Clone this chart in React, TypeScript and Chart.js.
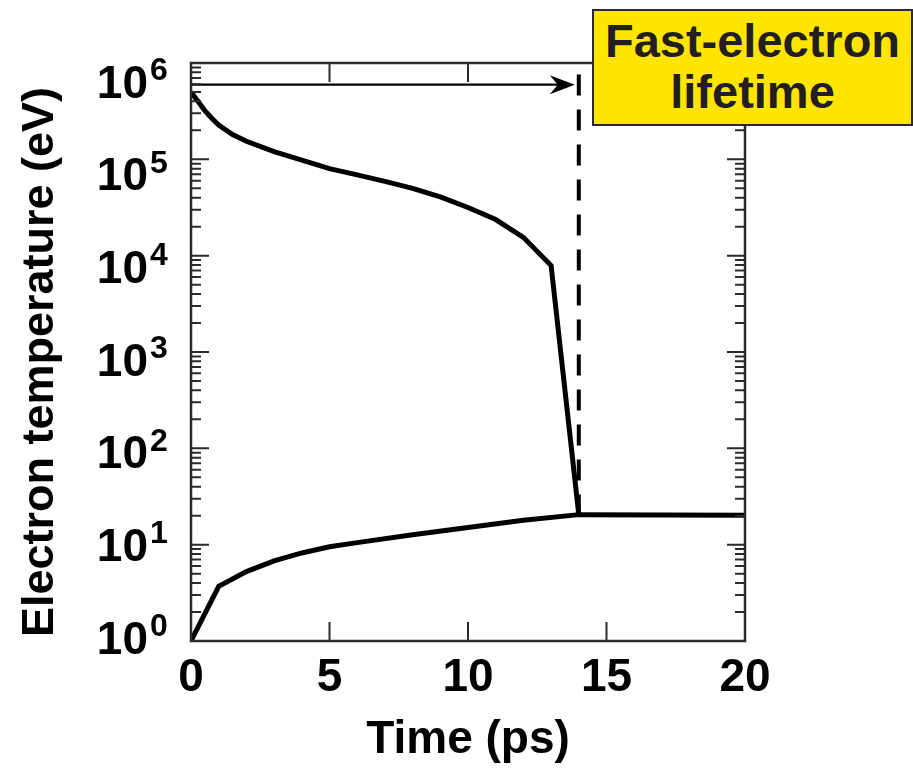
import React, { useEffect, useRef } from 'react';
import { Chart, registerables } from 'chart.js';

Chart.register(...registerables);

// Hot (fast) electron temperature, eV
const timeHot = [0, 0.25, 0.5, 0.75, 1, 1.5, 2, 3, 4, 5, 6, 7, 8, 9, 10, 11, 12, 13, 14];
const tempHot = [5.0e5, 4.0e5, 3.2e5, 2.67e5, 2.27e5, 1.81e5, 1.54e5, 1.2e5, 9.8e4, 8.0e4, 6.9e4, 5.9e4, 5.0e4, 4.07e4, 3.16e4, 2.37e4, 1.55e4, 7.9e3, 20.5];

// Background (cold) electron temperature, eV
const timeCold = [0, 1, 2, 3, 4, 5, 6, 8, 10, 12, 14, 20];
const tempCold = [1, 3.7, 5.25, 6.8, 8.2, 9.5, 10.5, 12.7, 15.1, 17.9, 20.5, 20.2];

const xTickValues = [0, 5, 10, 15, 20];
const yDecades = [0, 1, 2, 3, 4, 5, 6];
const minorMultipliers = [2, 3, 4, 5, 6, 7, 8, 9];

const lifetime = 14;
const arrowLevel = 5.96e5;
const dashTop = 7.6e5;
const dashBottom = 20.5;
const boxLines = ['Fast-electron', 'lifetime'];

const xTitle = 'Time (ps)';
const yTitle = 'Electron temperature (eV)';

const FONT = '"Liberation Sans", Arial, Helvetica, sans-serif';

export default function App() {
  const ref = useRef<HTMLCanvasElement>(null);

  useEffect(() => {
    const canvas = ref.current;
    if (!canvas) return;

    const annotatePlugin = {
      id: 'annotate',
      afterDatasetsDraw(chart: any) {
        const { ctx, scales } = chart;
        const xs = scales.x;
        const ys = scales.y;
        ctx.save();
        // dashed lifetime line
        const dx = xs.getPixelForValue(lifetime);
        ctx.strokeStyle = '#000';
        ctx.lineWidth = 4;
        ctx.setLineDash([21, 14]);
        ctx.beginPath();
        ctx.moveTo(dx, ys.getPixelForValue(dashTop));
        ctx.lineTo(dx, ys.getPixelForValue(dashBottom));
        ctx.stroke();
        ctx.setLineDash([]);
        // arrow
        const ay = ys.getPixelForValue(arrowLevel);
        const tipX = dx - 4;
        ctx.lineWidth = 2.2;
        ctx.beginPath();
        ctx.moveTo(xs.getPixelForValue(0), ay);
        ctx.lineTo(tipX - 12, ay);
        ctx.stroke();
        ctx.beginPath();
        ctx.moveTo(tipX, ay);
        ctx.lineTo(tipX - 25, ay - 9.5);
        ctx.lineTo(tipX - 17, ay);
        ctx.lineTo(tipX - 25, ay + 9.5);
        ctx.closePath();
        ctx.fillStyle = '#000';
        ctx.fill();
        ctx.restore();
      },
      afterDraw(chart: any) {
        const { ctx, chartArea: a, scales } = chart;
        const xs = scales.x;
        const ys = scales.y;
        ctx.save();
        ctx.strokeStyle = '#2a2a2a';
        // frame
        ctx.lineWidth = 2.5;
        ctx.strokeRect(a.left, a.top, a.right - a.left, a.bottom - a.top);
        // x ticks (inward, top and bottom)
        ctx.lineWidth = 2;
        ctx.beginPath();
        xTickValues.forEach((v) => {
          const px = xs.getPixelForValue(v);
          ctx.moveTo(px, a.bottom);
          ctx.lineTo(px, a.bottom - 19);
          ctx.moveTo(px, a.top);
          ctx.lineTo(px, a.top + 19);
        });
        // y ticks (inward, left and right)
        yDecades.forEach((k) => {
          const vals: [number, number][] = [[Math.pow(10, k), 18]];
          if (k < 6) minorMultipliers.forEach((m) => vals.push([m * Math.pow(10, k), 10]));
          vals.forEach(([v, len]) => {
            const py = ys.getPixelForValue(v);
            ctx.moveTo(a.left, py);
            ctx.lineTo(a.left + len, py);
            ctx.moveTo(a.right, py);
            ctx.lineTo(a.right - len, py);
          });
        });
        ctx.stroke();
        // y tick labels 10^k
        ctx.fillStyle = '#000';
        const span = a.bottom - a.top;
        yDecades.forEach((k) => {
          const py = ys.getPixelForValue(Math.pow(10, k));
          const center = a.top + 18 + (py - a.top) * ((span - 22) / span);
          const base = center + 16.5;
          ctx.font = `bold 46px ${FONT}`;
          ctx.textAlign = 'right';
          ctx.textBaseline = 'alphabetic';
          ctx.fillText('10', 148, base);
          ctx.font = `bold 32px ${FONT}`;
          ctx.textAlign = 'left';
          ctx.fillText(String(k), 150, center - 1);
        });
        // y axis title
        ctx.save();
        ctx.translate(41, (a.top + a.bottom) / 2 + 10);
        ctx.rotate(-Math.PI / 2);
        ctx.font = `bold 45px ${FONT}`;
        ctx.textAlign = 'center';
        ctx.textBaseline = 'middle';
        ctx.fillText(yTitle, 0, 0);
        ctx.restore();
        ctx.restore();
      },
    };

    const chart = new Chart(canvas, {
      type: 'line',
      data: {
        datasets: [
          {
            label: 'Fast electrons',
            data: timeHot.map((t, i) => ({ x: t, y: tempHot[i] })),
            borderColor: '#000',
            borderWidth: 5,
            pointRadius: 0,
            tension: 0,
            fill: false,
          },
          {
            label: 'Background electrons',
            data: timeCold.map((t, i) => ({ x: t, y: tempCold[i] })),
            borderColor: '#000',
            borderWidth: 5,
            pointRadius: 0,
            tension: 0,
            fill: false,
          },
        ],
      },
      options: {
        animation: false,
        responsive: false,
        maintainAspectRatio: false,
        layout: { padding: { top: 63, right: 168, bottom: 0, left: 0 } },
        plugins: { legend: { display: false }, tooltip: { enabled: false } },
        scales: {
          x: {
            type: 'linear',
            min: 0,
            max: 20,
            ticks: {
              stepSize: 5,
              color: '#000',
              padding: 10,
              maxRotation: 0,
              autoSkip: false,
              font: { family: FONT, size: 46, weight: 'bold' },
            },
            grid: { display: false, drawTicks: false },
            border: { display: false },
            title: {
              display: true,
              text: xTitle,
              color: '#000',
              font: { family: FONT, size: 46, weight: 'bold' },
              padding: { top: 0, bottom: 5 },
            },
            afterFit(scale: any) {
              scale.height = 132;
            },
          },
          y: {
            type: 'logarithmic',
            min: 1,
            max: 1e6,
            ticks: { display: false },
            grid: { display: false, drawTicks: false },
            border: { display: false },
            title: { display: false },
            afterFit(scale: any) {
              scale.width = 191;
            },
          },
        },
      },
      plugins: [annotatePlugin],
    } as any);

    return () => chart.destroy();
  }, []);

  return (
    <div style={{ position: 'fixed', left: 0, top: 0, width: 913, height: 773, background: '#fff' }}>
      <canvas ref={ref} width={913} height={773} style={{ width: 913, height: 773, display: 'block' }} />
      <div
        style={{
          position: 'absolute',
          left: 592,
          top: 9,
          width: 321,
          height: 117,
          boxSizing: 'border-box',
          border: '2.5px solid #2a2a2a',
          background: '#FFE500',
          color: '#231f20',
          fontFamily: FONT,
          fontWeight: 'bold',
          fontSize: 47,
          lineHeight: '51px',
          textAlign: 'center',
          paddingTop: 4,
        }}
      >
        {boxLines.map((l) => (
          <div key={l}>{l}</div>
        ))}
      </div>
    </div>
  );
}
